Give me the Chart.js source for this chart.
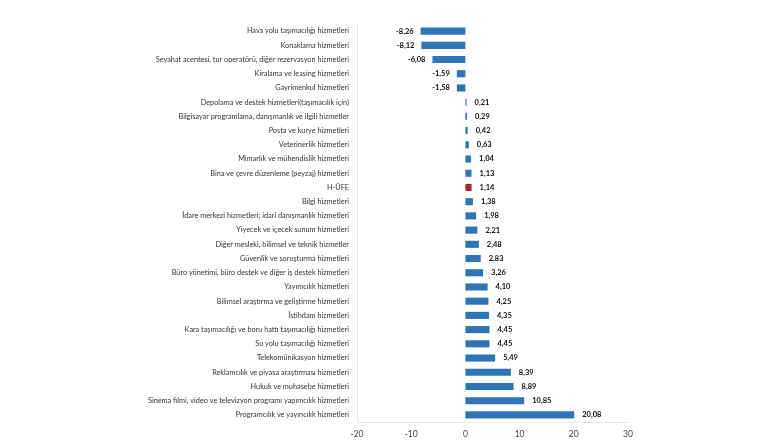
<!DOCTYPE html>
<html>
<head>
<meta charset="utf-8">
<script src="https://cdn.jsdelivr.net/npm/chart.js@4.4.0/dist/chart.umd.min.js"></script>
<style>
  html, body { margin: 0; padding: 0; background: #fff; }
  #wrap { width: 780px; height: 440px; }
</style>
</head>
<body>
<div id="wrap"><canvas id="ufeChart" width="780" height="440"></canvas></div>
<script>
// kategoriler (yukaridan asagiya)
const categories = [
  'Hava yolu taşımacılığı hizmetleri',
  'Konaklama hizmetleri',
  'Seyahat acentesi, tur operatörü, diğer rezervasyon hizmetleri',
  'Kiralama ve leasing hizmetleri',
  'Gayrimenkul hizmetleri',
  'Depolama ve destek hizmetleri(taşımacılık için)',
  'Bilgisayar programlama, danışmanlık ve ilgili hizmetler',
  'Posta ve kurye hizmetleri',
  'Veterinerlik hizmetleri',
  'Mimarlık ve mühendislik hizmetleri',
  'Bina ve çevre düzenleme (peyzaj) hizmetleri',
  'H-ÜFE',
  'Bilgi hizmetleri',
  'İdare merkezi hizmetleri; idari danışmanlık hizmetleri',
  'Yiyecek ve içecek sunum hizmetleri',
  'Diğer mesleki, bilimsel ve teknik hizmetler',
  'Güvenlik ve soruşturma hizmetleri',
  'Büro yönetimi, büro destek ve diğer iş destek hizmetleri',
  'Yayımcılık hizmetleri',
  'Bilimsel araştırma ve geliştirme hizmetleri',
  'İstihdam hizmetleri',
  'Kara taşımacılığı ve boru hattı taşımacılığı hizmetleri',
  'Su yolu taşımacılığı hizmetleri',
  'Telekomünikasyon hizmetleri',
  'Reklamcılık ve piyasa araştırması hizmetleri',
  'Hukuk ve muhasebe hizmetleri',
  'Sinema filmi, video ve televizyon programı yapımcılık hizmetleri',
  'Programcılık ve yayıncılık hizmetleri'
]

const changes = [
  -8.26, -8.12, -6.08, -1.59, -1.58,
  0.21, 0.29, 0.42, 0.63, 1.04, 1.13, 1.14, 1.38, 1.98,
  2.21, 2.48, 2.83, 3.26, 4.10, 4.25, 4.35, 4.45, 4.45,
  5.49, 8.39, 8.89, 10.85, 20.08
]

const xTicks = [-20, -10, 0, 10, 20, 30]
const highlight = 'H-ÜFE'

const blue = '#2e75b6'
const red = '#b0232a'
const barColors = categories.map(c => c === highlight ? red : blue)

const fmt = v => v.toFixed(2).replace('.', ',')

// deger etiketleri
const valueLabels = {
  id: 'valueLabels',
  afterDatasetsDraw(chart) {
    const ctx = chart.ctx
    const meta = chart.getDatasetMeta(0)
    ctx.save()
    ctx.font = 'bold 7.5px Lato, sans-serif'
    ctx.fillStyle = '#111'
    ctx.textBaseline = 'middle'
    meta.data.forEach((bar, i) => {
      const v = changes[i]
      if (v >= 0) {
        ctx.textAlign = 'left'
        ctx.fillText(fmt(v), bar.x + 8, bar.y)
      } else {
        ctx.textAlign = 'right'
        ctx.fillText(fmt(v), bar.x - 7, bar.y)
      }
    })
    ctx.restore()
  }
}

const ctx = document.getElementById('ufeChart').getContext('2d')
const myChart = new Chart(ctx, {
  type: 'bar',
  data: {
    labels: categories,
    datasets: [{
      data: changes,
      backgroundColor: barColors,
      barPercentage: 0.5,
      categoryPercentage: 1
    }]
  },
  options: {
    indexAxis: 'y',
    responsive: false,
    animation: false,
    layout: { padding: { top: 24, right: 152, bottom: 0, left: 0 } },
    plugins: {
      legend: { display: false },
      tooltip: { enabled: false }
    },
    scales: {
      x: {
        min: xTicks[0],
        max: xTicks[xTicks.length - 1],
        afterBuildTicks: axis => { axis.ticks = xTicks.map(v => ({ value: v })) },
        afterFit: axis => { axis.height = 18 },
        grid: { display: false, drawTicks: false },
        border: { display: true, color: '#e6e6e6' },
        ticks: {
          color: '#444',
          font: { family: 'Lato, sans-serif', size: 8.5 },
          padding: 7
        }
      },
      y: {
        grid: { display: false, drawTicks: false },
        border: { display: true, color: '#e6e6e6' },
        afterFit: axis => { axis.width = 357 },
        ticks: {
          autoSkip: false,
          color: '#333',
          font: { family: 'Lato, sans-serif', size: 7.3 },
          padding: 8
        }
      }
    }
  },
  plugins: [valueLabels]
})
</script>
</body>
</html>
